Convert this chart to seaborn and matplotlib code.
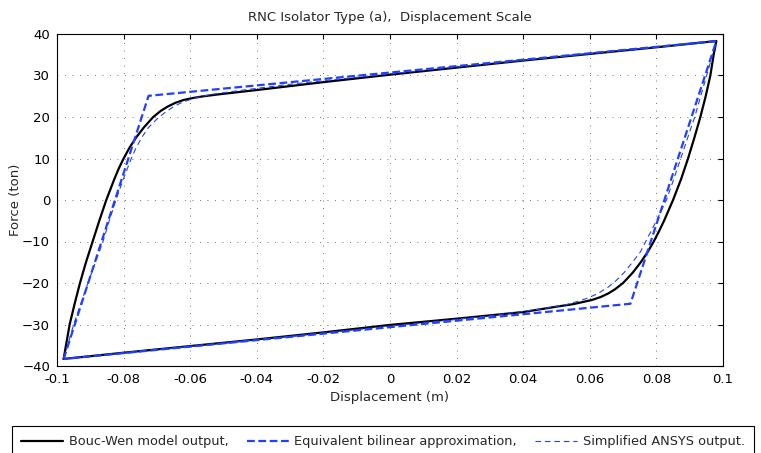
import numpy as np
import pandas as pd
import matplotlib
matplotlib.use('Agg')
import matplotlib.pyplot as plt
import seaborn as sns

# Bouc-Wen model output (black), upper branch then lower branch
bw_up_x = [-0.098, -0.0973, -0.0962, -0.0947, -0.0931, -0.0913, -0.0893, -0.0873, -0.0852, -0.0828,
           -0.0815, -0.0800, -0.0783, -0.0763, -0.0739, -0.0711, -0.0688, -0.0668, -0.0645, -0.0620,
           -0.0590, -0.0560, -0.0510, -0.040, -0.020, 0.0, 0.020, 0.040, 0.060, 0.080, 0.098]
bw_up_y = [-38.3, -35.0, -30.0, -25.0, -20.0, -15.0, -10.0, -5.0, 0.0, 5.0,
           7.5, 10.0, 12.5, 15.0, 17.5, 20.0, 21.5, 22.5, 23.4, 24.1,
           24.6, 25.0, 25.5, 26.5, 28.4, 30.2, 31.9, 33.6, 35.2, 36.8, 38.3]
bw_lo_x = [0.098, 0.0972, 0.0962, 0.0948, 0.0932, 0.0914, 0.0895, 0.0874, 0.0850, 0.0823,
           0.0808, 0.0792, 0.0774, 0.0753, 0.0729, 0.0700, 0.0676, 0.0656, 0.0632, 0.0606,
           0.0578, 0.0550, 0.050, 0.040, 0.020, 0.0, -0.020, -0.040, -0.060, -0.080, -0.098]
bw_lo_y = [38.3, 35.0, 30.0, 25.0, 20.0, 15.0, 10.0, 5.0, 0.0, -5.0,
           -7.5, -10.0, -12.5, -15.0, -17.5, -20.0, -21.5, -22.5, -23.4, -24.1,
           -24.6, -25.1, -25.7, -27.0, -28.6, -30.1, -31.9, -33.6, -35.2, -36.8, -38.3]

# Equivalent bilinear approximation (corner points of the loop)
bl_x = [-0.098, -0.0725, 0.098, 0.0722, -0.098]
bl_y = [-38.3, 25.1, 38.3, -25.0, -38.3]

# Simplified ANSYS output
an_up_x = [-0.098, -0.0950, -0.0907, -0.0862, -0.0843, -0.0823, -0.0801, -0.0777, -0.0763, -0.0746,
           -0.0725, -0.0700, -0.0677, -0.0650, -0.0625, -0.0600, -0.0570, -0.0530, -0.0450, -0.030,
           0.0, 0.050, 0.098]
an_up_y = [-38.3, -30.0, -20.0, -10.0, -5.0, 0.0, 5.0, 10.0, 12.5, 15.0,
           17.5, 19.5, 21.0, 22.5, 23.5, 24.2, 24.9, 25.5, 26.4, 27.9,
           30.4, 34.5, 38.3]
an_lo_x = [0.098, 0.0951, 0.0915, 0.0873, 0.0852, 0.0830, 0.0800, 0.0768, 0.0752, 0.0728,
           0.0703, 0.0678, 0.0655, 0.0625, 0.0595, 0.0565, 0.0530, 0.0450, 0.030, 0.0,
           -0.050, -0.098]
an_lo_y = [38.3, 30.0, 20.0, 10.0, 5.0, 0.0, -5.0, -10.0, -12.5, -15.0,
           -17.5, -19.5, -21.0, -22.5, -23.6, -24.4, -25.2, -26.3, -27.9, -30.4,
           -34.5, -38.3]

labels = ['Bouc-Wen model output,', 'Equivalent bilinear approximation,', 'Simplified ANSYS output.']
x_ticks = [-0.1, -0.08, -0.06, -0.04, -0.02, 0, 0.02, 0.04, 0.06, 0.08, 0.1]
x_ticklabels = ['-0.1', '-0.08', '-0.06', '-0.04', '-0.02', '0', '0.02', '0.04', '0.06', '0.08', '0.1']
y_ticks = [-40, -30, -20, -10, 0, 10, 20, 30, 40]

sns.set_style('white')
plt.rcParams['font.family'] = ['DejaVu Sans']
plt.rcParams['font.size'] = 9.5

blue = '#2040ff'

bw = pd.DataFrame({'x': bw_up_x + bw_lo_x, 'y': bw_up_y + bw_lo_y})
bl = pd.DataFrame({'x': bl_x, 'y': bl_y})
an = pd.DataFrame({'x': an_up_x + an_lo_x, 'y': an_up_y + an_lo_y})

fig = plt.figure(figsize=(7.61, 4.53), dpi=100)
ax = fig.add_axes([57 / 761, 1 - 366 / 453, (723 - 57) / 761, (366 - 34) / 453])

sns.lineplot(data=bw, x='x', y='y', sort=False, estimator=None, ax=ax, color='black',
             lw=1.6, label=labels[0], legend=False)
sns.lineplot(data=bl, x='x', y='y', sort=False, estimator=None, ax=ax, color=blue,
             lw=1.6, linestyle=(0, (3.5, 1.6)), label=labels[1], legend=False)
sns.lineplot(data=an, x='x', y='y', sort=False, estimator=None, ax=ax, color=blue,
             lw=0.8, linestyle=(0, (5, 3.5)), label=labels[2], legend=False)

ax.set_xlim(-0.1, 0.1)
ax.set_ylim(-40, 40)
ax.set_xticks(x_ticks)
ax.set_xticklabels(x_ticklabels)
ax.set_yticks(y_ticks)
ax.grid(True, color='#444444', lw=0.6, linestyle=(0, (1, 8)))
ax.tick_params(direction='in', top=True, right=True, length=3.5, width=0.8,
               colors='black', labelsize=9.5, pad=5)
for s in ax.spines.values():
    s.set_visible(True)
    s.set_color('black')
    s.set_linewidth(0.8)

ax.set_title('RNC Isolator Type (a),  Displacement Scale', fontsize=9.5, pad=9)
ax.set_xlabel('Displacement (m)', fontsize=9.5, labelpad=4)
ax.set_ylabel('Force (ton)', fontsize=9.5, labelpad=0)

handles, labs = ax.get_legend_handles_labels()
leg = fig.legend(handles, labs, loc='upper left', bbox_to_anchor=(12 / 761, 1 - 426 / 453),
                 ncol=3, frameon=True, fancybox=False, edgecolor='black', framealpha=1,
                 borderaxespad=0, borderpad=0.7, handlelength=3.25, handletextpad=0.45,
                 columnspacing=1.4, fontsize=9.3)
leg.get_frame().set_linewidth(0.8)

fig.savefig('out.png', dpi=100)
